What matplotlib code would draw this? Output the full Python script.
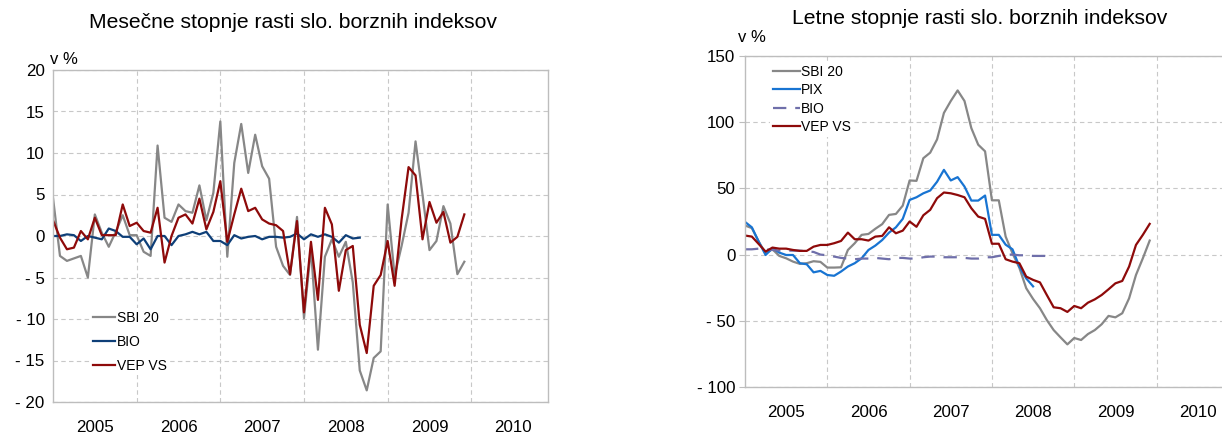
import matplotlib
matplotlib.use("Agg")
import matplotlib.pyplot as plt
from matplotlib.ticker import FixedLocator, FuncFormatter

plt.rcParams['font.family'] = ['Liberation Sans', 'DejaVu Sans']

years = ["2005", "2006", "2007", "2008", "2009", "2010"]

# Monthly growth rates (Jan 2005 - Dec 2009), in %
m_sbi20 = [4.6, -2.4, -3.0, -2.7, -2.4, -5.0, 2.6, 0.4, -1.3, 0.5, 2.5, 0.1,
           0.1, -1.9, -2.4, 10.9, 2.2, 1.7, 3.8, 3.0, 2.8, 6.1, 1.9, 5.2,
           13.8, -2.5, 8.8, 13.5, 7.6, 12.2, 8.4, 6.9, -1.3, -3.6, -4.7, 2.3,
           -9.9, -1.5, -13.7, -2.5, -0.4, -2.5, -0.7, -5.6, -16.2, -18.6, -14.7, -13.9,
           3.8, -4.8, -1.2, 2.8, 11.4, 5.0, -1.7, -0.6, 3.6, 1.5, -4.6, -3.1]
m_bio = [0.0, 0.0, 0.2, 0.1, -0.6, 0.0, -0.2, -0.4, 0.9, 0.6, -0.1, -0.1,
         -1.0, -0.3, -1.6, 0.0, 0.0, -1.1, 0.0, 0.2, 0.5, 0.2, 0.5, -0.6,
         -0.6, -1.1, 0.1, -0.3, -0.1, 0.0, -0.4, -0.1, -0.1, -0.2, -0.1, 0.3,
         -0.4, 0.2, -0.1, 0.2, -0.1, -0.8, 0.1, -0.3, -0.2]
m_vep = [1.9, -0.2, -1.6, -1.4, 0.6, -0.4, 2.2, 0.1, 0.1, 0.1, 3.8, 1.2,
         1.6, 0.6, 0.4, 3.4, -3.2, 0.0, 2.2, 2.6, 1.5, 4.5, 0.8, 2.9,
         6.6, -0.7, 2.6, 5.7, 3.0, 3.4, 2.0, 1.5, 1.3, 0.6, -4.6, 1.8,
         -9.2, -0.7, -7.7, 3.4, 1.4, -6.6, -1.7, -1.2, -10.7, -14.1, -6.0, -4.7,
         -0.6, -6.0, 2.0, 8.3, 7.3, -0.4, 4.1, 1.6, 2.9, -0.8, -0.1, 2.6]

# Annual growth rates (Jan 2005 - Dec 2009), in %
y_sbi20 = [22, 20, 9.8, 1, 4, -1, -2.8, -5.3, -7, -6.5, -5, -5.5,
           -9.8, -9.8, -9.6, 3.5, 8.6, 14.9, 15.6, 19.5, 23, 30, 30.7, 37,
           56, 55.7, 72.8, 77, 87, 107, 116, 124, 116, 95.5, 83, 78,
           41, 41, 13.6, 1, -10, -25.4, -33.5, -40.5, -49.4, -57, -62.5, -67.8,
           -63, -64.5, -60, -57, -52.6, -46.3, -47.4, -44.3, -33, -15.4, -2.8, 10.6]
y_pix = [24.7, 20.6, 9.8, -0.3, 4.8, 1.5, -0.3, -0.3, -6.5, -7.3, -13.4, -12.3,
         -15.4, -16, -12.8, -9, -6.5, -2.8, 3.5, 6.8, 11, 16.6, 20.6, 27,
         41.3, 43.3, 46.3, 48.4, 55, 64, 56, 58.5, 51.4, 40.8, 40.8, 44.6,
         14.9, 14.9, 7.5, 4, -9, -18, -24]
y_bio = [4, 4, 4.5, 4, 3.5, 3, 3, 3, 3, 2.5, 2, 0,
         -0.5, -1.5, -2.5, -3, -3.5, -3, -3, -2.5, -3, -3.5, -2.5, -2.5,
         -3, -3, -2, -1.5, -1.5, -2, -2, -2, -2.5, -3, -3, -2,
         -2, -1, 0, 0, -0.5, -0.5, -1, -1, -1]
y_vep = [14.4, 13.6, 8, 2.3, 5.3, 4.5, 4.5, 3.5, 2.8, 2.8, 6, 7.3,
         7.3, 8.6, 10.3, 16.6, 11.6, 11.6, 10.6, 13.6, 14.1, 20.6, 16.1, 18.1,
         25, 21, 29.7, 33.8, 42.6, 46.9, 46.3, 45, 43.3, 35, 28.7, 27,
         8.2, 8.2, -3.5, -5.3, -6.5, -16.6, -19.1, -21, -30.5, -39.8, -40.5, -43.3,
         -38.8, -40.5, -36.3, -33.8, -30.5, -26.2, -21.7, -19.9, -9, 7.3, 14.9, 23.2]

C_GREY = "#878787"
C_NAVY = "#0E3F78"
C_RED = "#8E0A0A"
C_BLUE = "#1874D2"
C_LAV = "#6F6FAA"
C_SPINE = "#BDBDBD"
C_GRID = "#C8C8C8"

W, H = 1222, 438
fig = plt.figure(figsize=(W / 100, H / 100), dpi=100)


def fmt(v, pos=None):
    v = int(round(v))
    return f"- {abs(v)}" if v < 0 else f"{v}"


def style_axes(ax, ylo, yhi, ystep, yticks_out):
    ax.set_xlim(0, 71)
    ax.set_ylim(ylo, yhi)
    ax.xaxis.set_major_locator(FixedLocator([12, 24, 36, 48, 60]))
    ax.xaxis.set_minor_locator(FixedLocator([6 + 12 * i for i in range(6)]))
    ax.xaxis.set_major_formatter(FuncFormatter(lambda v, p: ""))
    ax.xaxis.set_minor_formatter(FuncFormatter(lambda v, p: years[int(round((v - 6) / 12))]))
    ax.tick_params(axis='x', which='both', length=0, pad=13, labelsize=12.2)
    ax.set_yticks(list(range(ylo, yhi + 1, ystep)))
    ax.yaxis.set_major_formatter(FuncFormatter(fmt))
    ax.tick_params(axis='y', labelsize=12.2, length=4 if yticks_out else 0,
                   color=C_SPINE, pad=3 if yticks_out else 6)
    ax.grid(True, which='major', color=C_GRID, linestyle=(0, (4, 3)), linewidth=0.8)
    ax.set_axisbelow(True)
    for s in ax.spines.values():
        s.set_color(C_SPINE)
        s.set_linewidth(1.0)


# Left chart: monthly
ax1 = fig.add_axes([53 / W, 1 - 402 / H, 495 / W, 332 / H])
style_axes(ax1, -20, 20, 5, False)
ax1.plot(range(len(m_sbi20)), m_sbi20, color=C_GREY, lw=1.6, label="SBI 20")
ax1.plot(range(len(m_bio)), m_bio, color=C_NAVY, lw=1.6, label="BIO")
ax1.plot(range(len(m_vep)), m_vep, color=C_RED, lw=1.6, label="VEP VS")
ax1.legend(loc='center left', bbox_to_anchor=(0.075, 0.181), fontsize=10,
           frameon=True, facecolor='white', edgecolor='none', framealpha=1,
           handlelength=1.6, handletextpad=0.1, labelspacing=0.7,
           borderpad=0.2, borderaxespad=0)
fig.text(293 / W, 1 - 22 / H, "Mesečne stopnje rasti slo. borznih indeksov",
         ha='center', va='center', fontsize=15.2)
fig.text(50 / W, 1 - 60 / H, "v %", ha='left', va='center', fontsize=12)

# Right chart: annual
ax2 = fig.add_axes([745 / W, 1 - 387 / H, 487 / W, 331 / H])
style_axes(ax2, -100, 150, 50, True)
ax2.plot(range(len(y_sbi20)), y_sbi20, color=C_GREY, lw=1.6, label="SBI 20")
ax2.plot(range(len(y_pix)), y_pix, color=C_BLUE, lw=1.6, label="PIX")
ax2.plot(range(len(y_bio)), y_bio, color=C_LAV, lw=1.6, linestyle=(0, (6, 4)), label="BIO")
ax2.plot(range(len(y_vep)), y_vep, color=C_RED, lw=1.6, label="VEP VS")
ax2.legend(loc='center left', bbox_to_anchor=(0.051, 0.8686), fontsize=10,
           frameon=True, facecolor='white', edgecolor='none', framealpha=1,
           handlelength=1.95, handletextpad=0.1, labelspacing=0.32,
           borderpad=0.2, borderaxespad=0)
fig.text(980 / W, 1 - 18 / H, "Letne stopnje rasti slo. borznih indeksov",
         ha='center', va='center', fontsize=15.2)
fig.text(738 / W, 1 - 38 / H, "v %", ha='left', va='center', fontsize=12)

fig.savefig("out.png", dpi=100)
